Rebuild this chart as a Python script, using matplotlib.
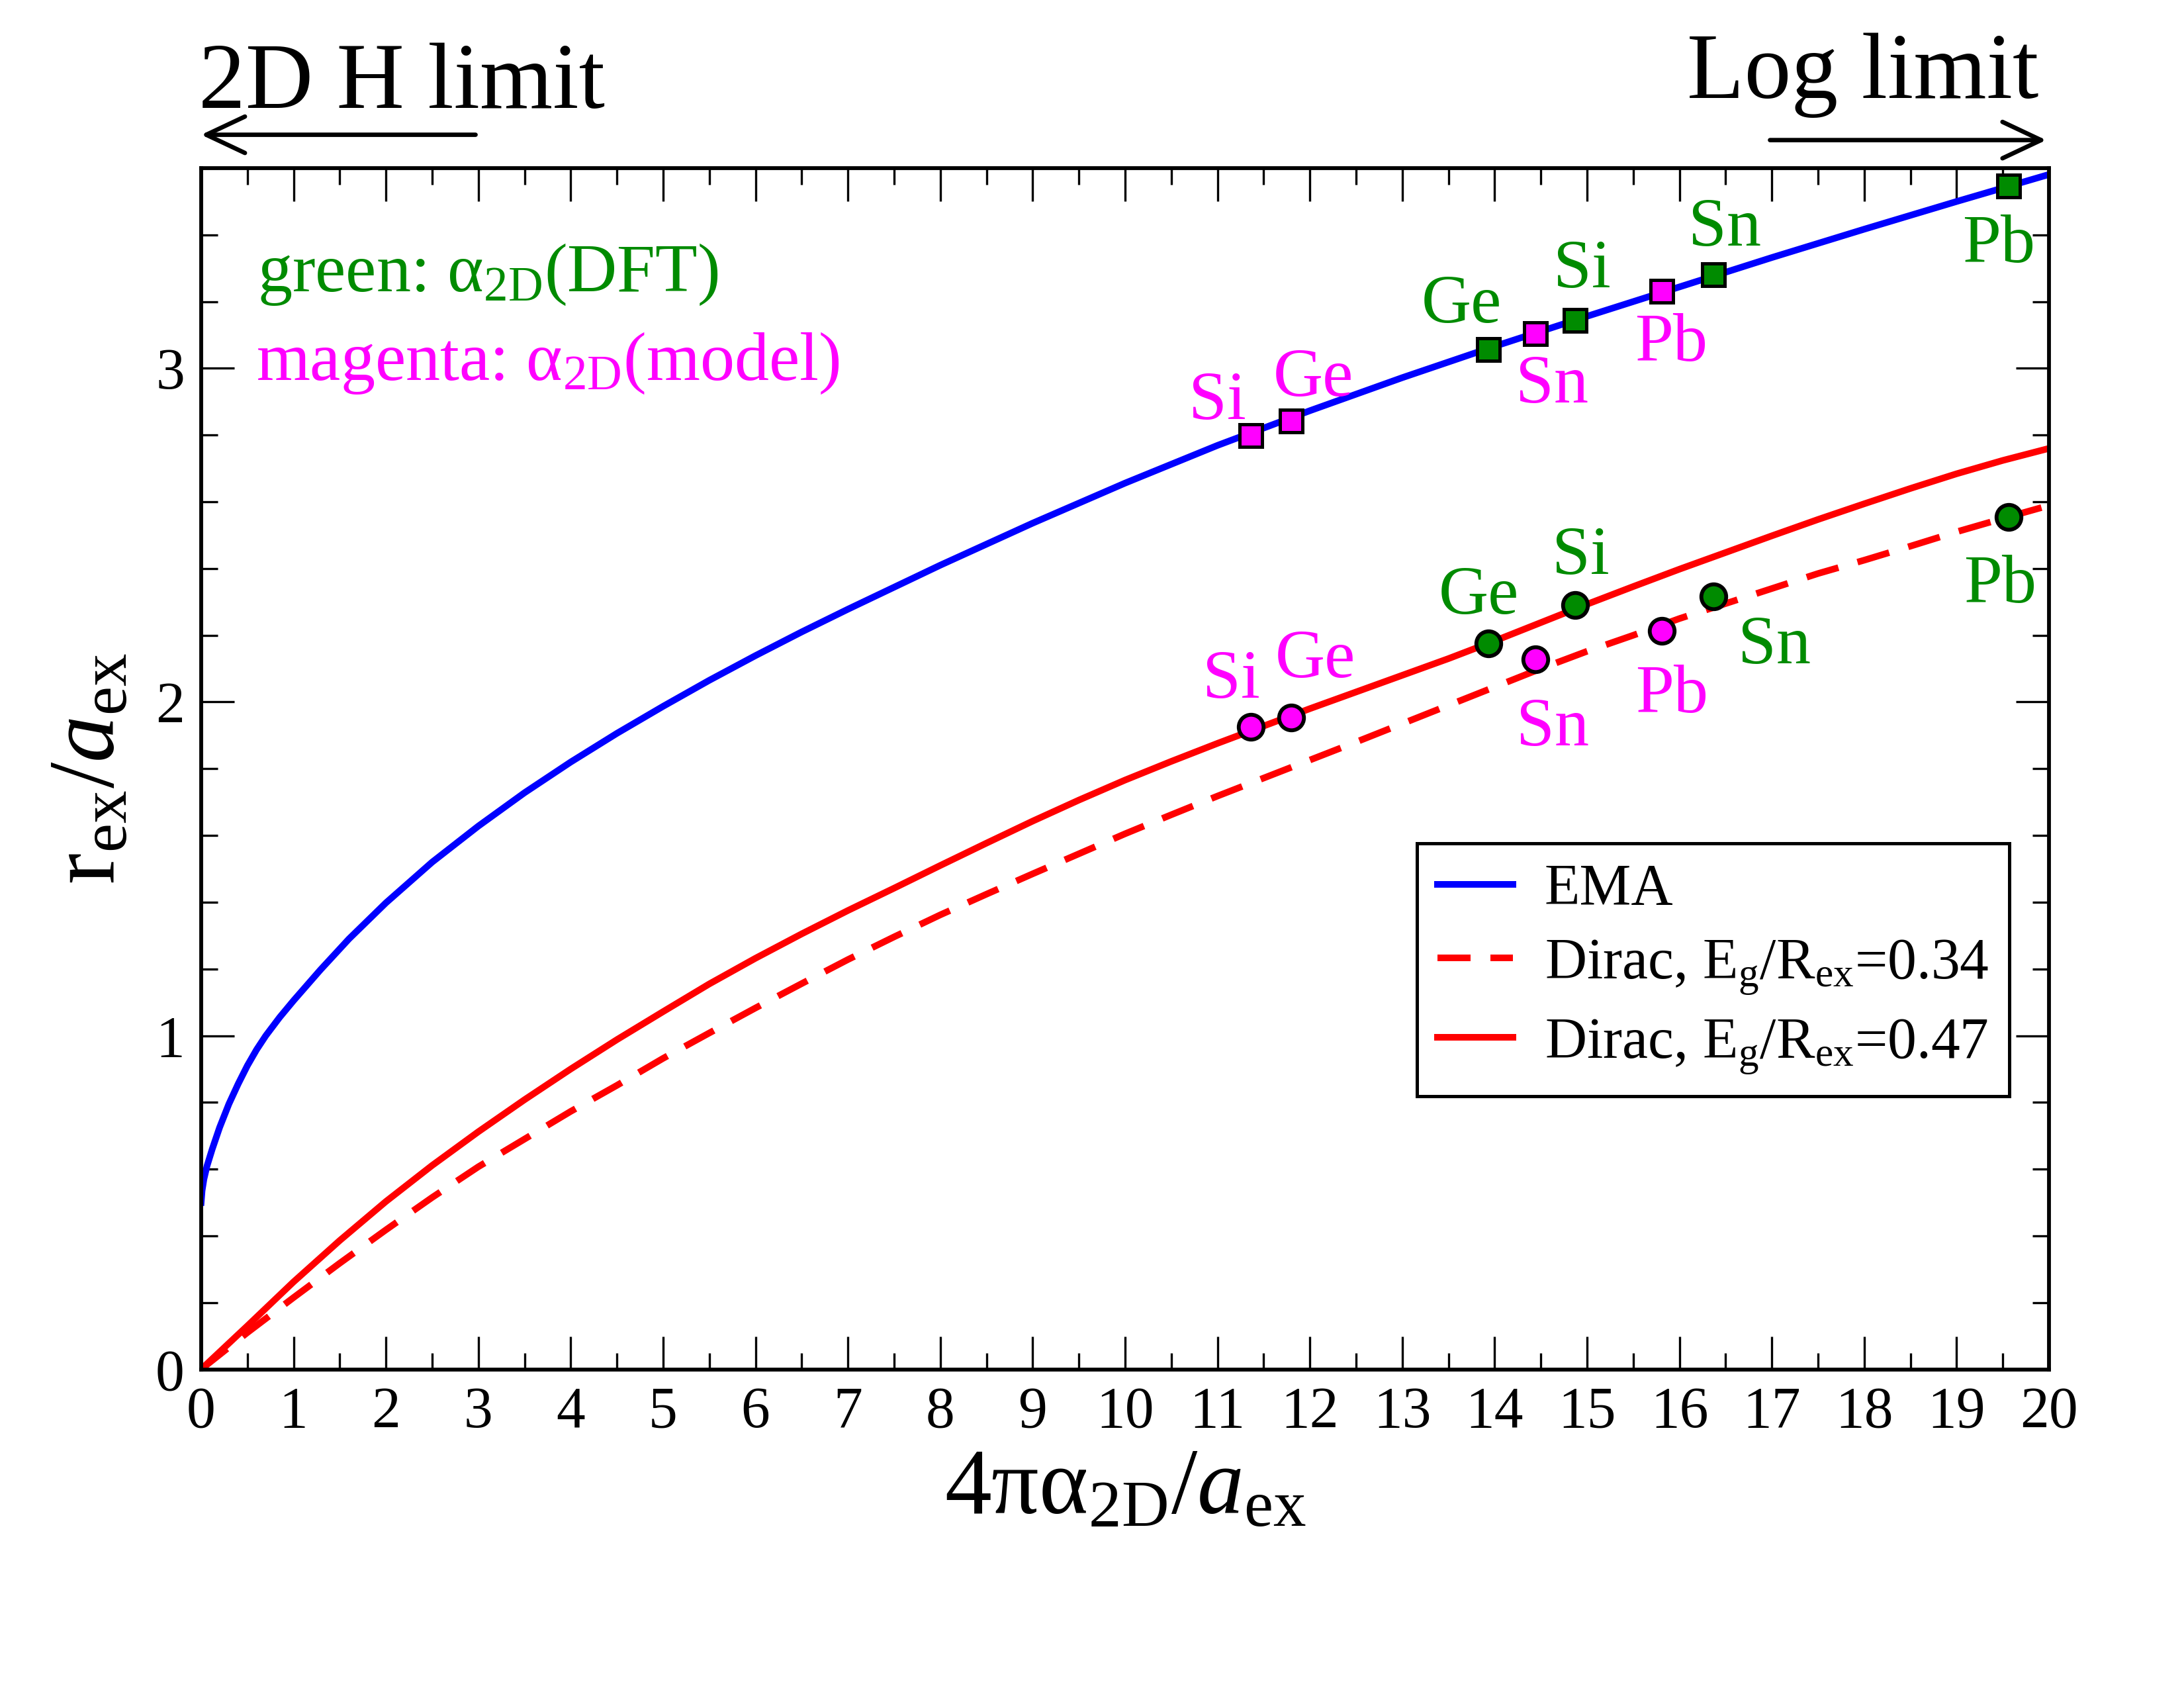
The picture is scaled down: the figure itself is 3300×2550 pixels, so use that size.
import matplotlib
matplotlib.use("Agg")
import matplotlib.pyplot as plt
from matplotlib.ticker import MultipleLocator

# ------------------------------------------------------
# Exciton radius vs. 2D polarizability (EMA vs Dirac model)
# ------------------------------------------------------

# EMA curve (blue)
ema_x = [0.0, 0.01, 0.03, 0.064, 0.12, 0.2, 0.3, 0.4, 0.5, 0.6, 0.7, 0.85, 1.0,
         1.29, 1.6, 2.0, 2.5, 3.0, 3.5, 4.0, 4.5, 5.0, 5.5, 6.0, 6.5, 7.0, 8.0,
         9.0, 10.0, 11.0, 12.0, 13.0, 14.0, 15.0, 16.0, 17.0, 18.0, 19.0, 20.0]
ema_y = [0.5, 0.535, 0.57, 0.61, 0.66, 0.725, 0.795, 0.855, 0.91, 0.958, 1.0, 1.055,
         1.105, 1.197, 1.29, 1.398, 1.52, 1.628, 1.728, 1.82, 1.906, 1.987, 2.065,
         2.139, 2.21, 2.278, 2.41, 2.536, 2.656, 2.769, 2.873, 2.972, 3.066, 3.156,
         3.244, 3.332, 3.417, 3.5, 3.581]

# Dirac model, Eg/Rex = 0.47 (solid red)
d47_x = [0.0, 0.5, 1.0, 1.5, 2.0, 2.5, 3.0, 3.5, 4.0, 4.5, 5.0, 5.5, 6.0, 6.5, 7.0,
         7.5, 8.0, 8.5, 9.0, 9.5, 10.0, 10.5, 11.0, 11.5, 12.0, 12.5, 13.0, 13.5,
         14.0, 14.5, 15.0, 15.5, 16.0, 16.5, 17.0, 17.5, 18.0, 18.5, 19.0, 19.5, 20.0]
d47_y = [0.0, 0.13, 0.262, 0.386, 0.503, 0.611, 0.712, 0.808, 0.9, 0.988, 1.072,
         1.155, 1.232, 1.305, 1.375, 1.442, 1.51, 1.577, 1.643, 1.706, 1.766, 1.822,
         1.876, 1.928, 1.98, 2.03, 2.08, 2.13, 2.183, 2.238, 2.293, 2.346, 2.398,
         2.448, 2.498, 2.547, 2.594, 2.64, 2.684, 2.724, 2.76]

# Dirac model, Eg/Rex = 0.34 (dashed red)
d34_x = [0.0, 0.5, 1.0, 1.5, 2.0, 2.5, 3.0, 3.5, 4.0, 4.5, 5.0, 5.5, 6.0, 6.5, 7.0,
         7.5, 8.0, 8.5, 9.0, 9.5, 10.0, 10.5, 11.0, 11.5, 12.0, 12.5, 13.0, 13.5,
         14.0, 14.5, 15.0, 15.5, 16.0, 16.5, 17.0, 17.5, 18.0, 18.5, 19.0, 19.5, 20.0]
d34_y = [0.0, 0.11, 0.215, 0.318, 0.418, 0.515, 0.607, 0.69, 0.773, 0.851, 0.932,
         1.008, 1.083, 1.156, 1.228, 1.296, 1.362, 1.424, 1.485, 1.545, 1.605, 1.662,
         1.718, 1.772, 1.826, 1.88, 1.935, 1.99, 2.045, 2.1, 2.152, 2.2, 2.25, 2.295,
         2.34, 2.385, 2.425, 2.467, 2.51, 2.55, 2.589]

# materials: alpha_2D from the model (magenta) and from DFT (green)
materials = ["Si", "Ge", "Sn", "Pb"]
x_model = [11.36, 11.80, 14.44, 15.81]
x_dft = [14.87, 13.93, 16.37, 19.56]
r_ema_model = [2.799, 2.842, 3.104, 3.231]
r_ema_dft = [3.143, 3.057, 3.280, 3.547]
r_dirac_model = [1.925, 1.953, 2.127, 2.214]
r_dirac_dft = [2.290, 2.176, 2.316, 2.554]

# label offsets (points) next to each marker, same order as materials
OFF_EMA_MODEL = [(-12, 14.6), (8, 17.7), (6, -16.4), (3.4, -16.6)]
OFF_EMA_DFT = [(2.6, 20.8), (-9.7, 18.4), (4, 19.2), (-3.4, -19)]
OFF_DIRAC_MODEL = [(-7, 19.3), (8.6, 23.3), (6.4, -22.5), (3.7, -21)]
OFF_DIRAC_DFT = [(2, 20), (-3.4, 19.3), (22, -15.6), (-3, -22.3)]

GREEN = "#008B00"
MAGENTA = "#FF00FF"

plt.rcParams["font.family"] = ["Liberation Serif", "DejaVu Serif"]
plt.rcParams["mathtext.fontset"] = "custom"
plt.rcParams["mathtext.rm"] = "Liberation Serif"
plt.rcParams["mathtext.it"] = "Liberation Serif:italic"
plt.rcParams["mathtext.bf"] = "Liberation Serif:bold"


def add_markers(ax, xs, ys, color, marker, ms, mew, offsets):
    ax.plot(xs, ys, linestyle="none", marker=marker, ms=ms, mfc=color,
            mec="black", mew=mew, zorder=5, clip_on=False)
    for name, x, y, off in zip(materials, xs, ys, offsets):
        ax.annotate(name, xy=(x, y), xytext=off, textcoords="offset points",
                    ha="center", va="center_baseline", fontsize=25, color=color,
                    annotation_clip=False)


def main():
    fig = plt.figure(figsize=(11, 8.5), dpi=300)
    ax = fig.add_axes([0.0921, 0.1888, 0.8461, 0.7116])

    lw = 2.4
    l_ema, = ax.plot(ema_x, ema_y, color="#0000FF", lw=lw)
    l_d34, = ax.plot(d34_x, d34_y, color="#FF0000", lw=lw, dashes=(5.0, 3.0))
    l_d47, = ax.plot(d47_x, d47_y, color="#FF0000", lw=lw)

    # squares on EMA curve, circles on Dirac curves
    add_markers(ax, x_model, r_ema_model, MAGENTA, "s", 8.0, 1.2, OFF_EMA_MODEL)
    add_markers(ax, x_dft, r_ema_dft, GREEN, "s", 8.0, 1.2, OFF_EMA_DFT)
    add_markers(ax, x_model, r_dirac_model, MAGENTA, "o", 9.0, 1.4, OFF_DIRAC_MODEL)
    add_markers(ax, x_dft, r_dirac_dft, GREEN, "o", 9.0, 1.4, OFF_DIRAC_DFT)

    ax.set_xlim(0, 20)
    ax.set_ylim(0, 3.6)
    ax.xaxis.set_major_locator(MultipleLocator(1))
    ax.xaxis.set_minor_locator(MultipleLocator(0.5))
    ax.yaxis.set_major_locator(MultipleLocator(1))
    ax.yaxis.set_minor_locator(MultipleLocator(0.2))
    ax.tick_params(which="both", direction="in", top=True, right=True,
                   labelsize=21, pad=6)
    ax.tick_params(which="major", length=12, width=0.8)
    ax.tick_params(which="minor", length=6, width=0.8)
    for sp in ax.spines.values():
        sp.set_linewidth(1.4)

    ax.set_xlabel(r"$\mathrm{4\pi\alpha_{2D}}/a_{\mathrm{ex}}$", fontsize=34)
    ax.set_ylabel(r"$\mathrm{r_{ex}}/a_{\mathrm{ex}}$", fontsize=34)
    ax.xaxis.set_label_coords(0.5, -0.066)
    ax.yaxis.set_label_coords(-0.036, 0.5)

    ax.text(0.61, 3.231, r"green: $\mathrm{\alpha_{2D}}$(DFT)", color=GREEN,
            fontsize=25, va="baseline", ha="left")
    ax.text(0.595, 2.966, r"magenta: $\mathrm{\alpha_{2D}}$(model)", color=MAGENTA,
            fontsize=25, va="baseline", ha="left")

    # limits above the frame
    ax.text(-0.03, 3.781, "2D H limit", fontsize=34, ha="left", va="baseline",
            clip_on=False)
    ax.text(19.89, 3.81, "Log limit", fontsize=34, ha="right", va="baseline",
            clip_on=False)
    arrow = dict(arrowstyle="->,head_length=0.7,head_width=0.33", lw=1.6,
                 color="black", shrinkA=0, shrinkB=0, mutation_scale=20)
    ax.annotate("", xy=(0.0, 3.70), xytext=(2.97, 3.70), arrowprops=arrow,
                annotation_clip=False)
    ax.annotate("", xy=(19.97, 3.684), xytext=(16.98, 3.684), arrowprops=arrow,
                annotation_clip=False)

    leg = ax.legend([l_ema, l_d34, l_d47],
                    ["EMA", r"Dirac, $\mathrm{E_g/R_{ex}}$=0.34",
                     r"Dirac, $\mathrm{E_g/R_{ex}}$=0.47"],
                    loc="upper left", bbox_to_anchor=(0.658, 0.438), fontsize=21,
                    frameon=True, fancybox=False, edgecolor="black", framealpha=1,
                    borderpad=0.35, labelspacing=0.35, handlelength=1.3,
                    handletextpad=0.55, borderaxespad=0)
    leg.get_frame().set_linewidth(1.2)

    fig.savefig("out.png", dpi=300)
    plt.close(fig)


if __name__ == "__main__":
    main()
